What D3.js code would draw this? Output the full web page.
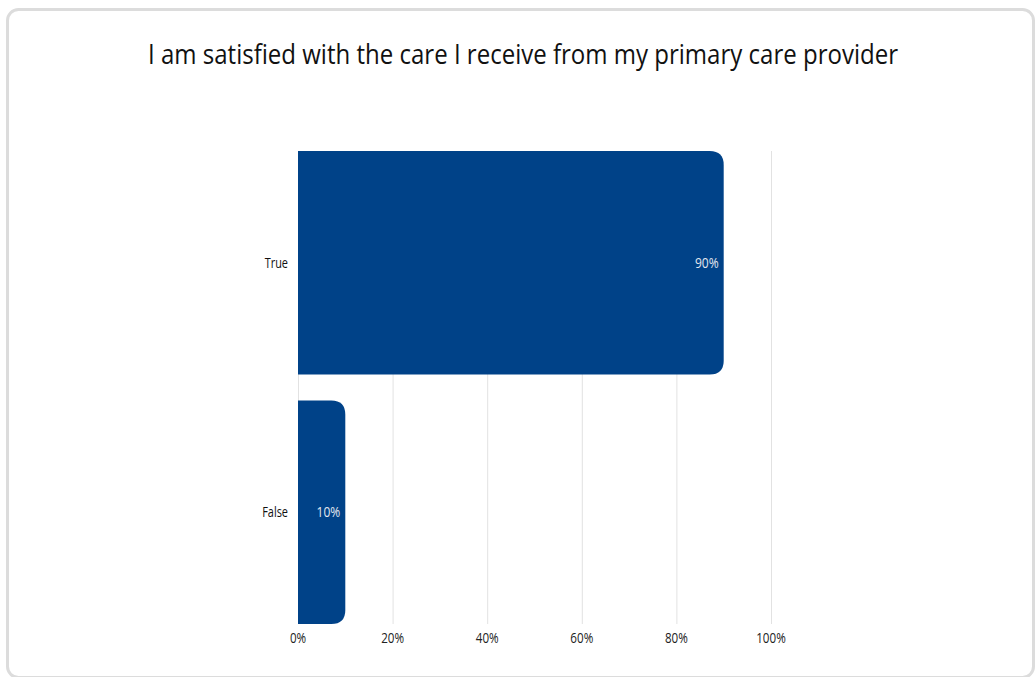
<!DOCTYPE html>
<html>
<head>
<meta charset="utf-8">
<script src="https://cdn.jsdelivr.net/npm/d3@7"></script>
<style>
  html, body { margin: 0; padding: 0; background: #fff; }
  svg { display: block; font-family: "Open Sans", sans-serif; }
</style>
</head>
<body>
<svg id="chart" width="1036" height="677"></svg>
<script>
// Survey answers and their share of respondents (%)
const categories = ["True", "False"];
const values = [90, 10];
const tickValues = [0, 20, 40, 60, 80, 100];
const titleText = "I am satisfied with the care I receive from my primary care provider";

const svg = d3.select("#chart");

// narrow the glyphs of a text selection to mimic a condensed face
function condense(sel, k) {
  sel.each(function () {
    const w = this.getComputedTextLength();
    d3.select(this)
      .attr("textLength", w * k)
      .attr("lengthAdjust", "spacingAndGlyphs");
  });
}

// card frame
svg.append("rect")
  .attr("x", 7.5).attr("y", 9.5)
  .attr("width", 1026).attr("height", 668)
  .attr("rx", 11).attr("ry", 11)
  .attr("fill", "#fff")
  .attr("stroke", "#dcdcdc")
  .attr("stroke-width", 3);

// title
svg.append("text")
  .attr("x", 523).attr("y", 64)
  .attr("text-anchor", "middle")
  .attr("font-size", 27)
  .attr("fill", "#111")
  .attr("textLength", 750)
  .attr("lengthAdjust", "spacingAndGlyphs")
  .text(titleText);

const plot = { left: 298, right: 771, top: 151, bottom: 624 };

const x = d3.scaleLinear().domain([0, 100]).range([plot.left, plot.right]);
const y = d3.scaleBand().domain(categories).range([plot.top, plot.bottom])
  .paddingInner(0.104).paddingOuter(0);

// vertical gridlines
svg.append("g").selectAll("line")
  .data(tickValues)
  .join("line")
  .attr("x1", d => x(d) + 0.5).attr("x2", d => x(d) + 0.5)
  .attr("y1", plot.top).attr("y2", plot.bottom)
  .attr("stroke", "#e2e2e2")
  .attr("stroke-width", 1);

// x axis tick labels
svg.append("g").selectAll("text")
  .data(tickValues)
  .join("text")
  .attr("x", d => x(d))
  .attr("y", 643)
  .attr("text-anchor", "middle")
  .attr("font-size", 14)
  .attr("fill", "#222")
  .text(d => d + "%")
  .call(condense, 0.83);

// category labels
svg.append("g").selectAll("text")
  .data(categories)
  .join("text")
  .attr("x", plot.left - 10)
  .attr("y", d => y(d) + y.bandwidth() / 2 + 5)
  .attr("text-anchor", "end")
  .attr("font-size", 14)
  .attr("fill", "#111")
  .text(d => d)
  .call(condense, 0.78);

// bars with rounded right end
const r = 14;
function barPath(x0, x1, y0, h) {
  const rr = Math.min(r, (x1 - x0), h / 2);
  return `M${x0},${y0}` +
    `H${x1 - rr}` +
    `Q${x1},${y0} ${x1},${y0 + rr}` +
    `V${y0 + h - rr}` +
    `Q${x1},${y0 + h} ${x1 - rr},${y0 + h}` +
    `H${x0}Z`;
}

const data = categories.map((c, i) => ({ cat: c, val: values[i] }));

svg.append("g").selectAll("path")
  .data(data)
  .join("path")
  .attr("d", d => barPath(x(0), x(d.val), y(d.cat), y.bandwidth()))
  .attr("fill", "#004288");

// value labels inside bar end
svg.append("g").selectAll("text")
  .data(data)
  .join("text")
  .attr("x", d => x(d.val) - 5)
  .attr("y", d => y(d.cat) + y.bandwidth() / 2 + 5)
  .attr("text-anchor", "end")
  .attr("font-size", 14)
  .attr("fill", "#e3e7ef")
  .text(d => d.val + "%")
  .call(condense, 0.86);
</script>
</body>
</html>
